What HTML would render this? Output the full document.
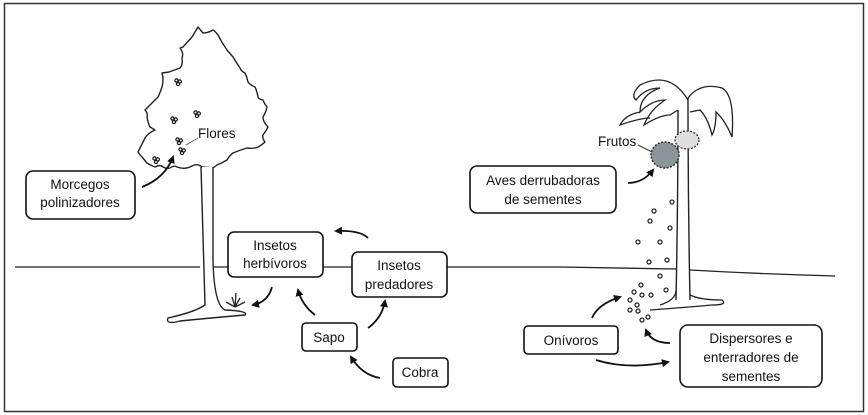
<!DOCTYPE html>
<html><head><meta charset="utf-8"><style>
html,body{margin:0;padding:0;background:#fff}
svg{display:block}
text{font-family:"Liberation Sans",sans-serif;font-size:13.5px;fill:#111}
</style></head><body>
<svg width="868" height="415" viewBox="0 0 868 415" xmlns="http://www.w3.org/2000/svg">
<defs>
<marker id="ah" markerWidth="8" markerHeight="8" refX="6" refY="4" orient="auto" markerUnits="userSpaceOnUse">
<path d="M0,0 L8,4 L0,8 z" fill="#111"/></marker>
<g id="fl" fill="none" stroke="#111" stroke-width="1.2"><circle cx="-1.5" cy="-1.5" r="1.6"/><circle cx="1.8" cy="-0.5" r="1.6"/><circle cx="0" cy="2" r="1.6"/></g>
</defs>
<rect x="4.5" y="3.5" width="859" height="408" fill="#fff" stroke="#333" stroke-width="1.5"/>
<!-- ground -->
<path d="M15,267 L200,267 M213,267 L228,267 M323,267 L352,267 M447,267 L560,267 Q620,268 676,269 M690,270 Q760,274 835,276" stroke="#222" stroke-width="1.3" fill="none"/>
<!-- tree crown -->
<path d="M198,27 L192,37 L183,47 L180,48 Q184,53 182,58 Q183,65 180,68 L169,72 L162,73 Q164,80 162,87 Q160,93 158,97 L150,105 L145,110 Q148,113 147,117 Q148,123 150,127 L155,130 Q148,133 145,138 L140,148 L138,152 Q140,155 142,157 L147,163 Q152,166 155,167 Q160,164 163,167 Q167,169 170,168 Q174,165 177,167 Q185,170 192,166 Q197,163 202,167 L213,168 L217,165 Q222,163 227,160 Q230,155 233,153 Q240,150 247,148 Q253,149 258,147 Q262,145 265,142 Q262,138 263,135 Q266,131 268,127 Q263,122 263,117 Q266,112 267,107 Q264,103 263,100 Q258,99 258,97 Q257,91 255,87 Q250,85 248,82 Q247,77 245,73 Q241,71 240,68 Q236,62 233,57 L227,50 Q222,43 218,35 Q215,31 213,30 Q208,33 203,33 Z" fill="#fff" stroke="#222" stroke-width="1.4" stroke-linejoin="round"/>
<!-- trunk -->
<path d="M201,167 Q203,230 205,305 Q195,312 168,318 Q165,325 180,321 Q210,318 245,315 Q249,311 225,310 Q214,305 213,260 L213,167" fill="#fff" stroke="#222" stroke-width="1.4"/>
<!-- flowers -->
<use href="#fl" x="178" y="82"/><use href="#fl" x="174" y="120"/><use href="#fl" x="197" y="114"/>
<use href="#fl" x="179" y="141"/><use href="#fl" x="182" y="151"/><use href="#fl" x="156" y="160"/>
<line x1="186" y1="145" x2="198" y2="138" stroke="#555"/>
<text x="198" y="138">Flores</text>
<!-- small plant -->
<path d="M235,307 L232,297 M235,307 L236,293 M235,307 L240,298 M235,307 L226,302 M235,307 L245,302" stroke="#222" stroke-width="1.3" fill="none"/>
<!-- palm -->
<path d="M676,300 Q678,200 678,110 M690,300 Q688,200 688,98" stroke="#222" stroke-width="1.4" fill="none"/>
<path d="M660,305 Q676,300 676,290 M690,295 Q700,300 722,300 Q728,305 712,305 Q690,307 650,310" stroke="#222" stroke-width="1.3" fill="none"/>
<path d="M688,100 Q670,70 640,85 Q630,95 636,100 Q645,88 660,88 Q640,95 640,112 Q652,100 665,100 Q650,110 644,125 Q660,115 670,115 L678,110 M688,98 Q700,82 722,88 Q735,95 732,137 Q725,120 716,112 Q716,128 712,135 Q708,118 700,110 L690,112 M640,112 Q625,115 620,125 Q640,118 650,118" stroke="#222" stroke-width="1.3" fill="none"/>
<!-- fruits -->
<ellipse cx="665" cy="155" rx="14" ry="13" fill="#8a9499" stroke="#222" stroke-width="1.4" stroke-dasharray="2 1.5"/>
<ellipse cx="687" cy="140" rx="12" ry="9" fill="#ddd" stroke="#222" stroke-width="1.2" stroke-dasharray="2 1.5"/>
<line x1="638" y1="145" x2="652" y2="152" stroke="#333"/>
<text x="598" y="146">Frutos</text>
<!-- seeds -->
<g fill="none" stroke="#222" stroke-width="1.3">
<circle cx="672" cy="202" r="2"/><circle cx="654" cy="211" r="2"/><circle cx="650" cy="221" r="2"/><circle cx="670" cy="228" r="2"/>
<circle cx="638" cy="242" r="2"/><circle cx="660" cy="242" r="2"/><circle cx="649" cy="262" r="2"/><circle cx="667" cy="260" r="2"/>
<circle cx="660" cy="276" r="2"/><circle cx="641" cy="285" r="2"/><circle cx="666" cy="290" r="2"/><circle cx="634" cy="292" r="2"/>
<circle cx="642" cy="295" r="2"/><circle cx="651" cy="295" r="2"/><circle cx="630" cy="300" r="2"/><circle cx="637" cy="305" r="2"/>
<circle cx="630" cy="310" r="2"/><circle cx="638" cy="311" r="2"/><circle cx="642" cy="320" r="2"/><circle cx="648" cy="317" r="2"/>
</g>
<!-- boxes -->
<g fill="#fff" stroke="#111" stroke-width="1.6">
<rect x="26" y="171" width="109" height="48" rx="7"/>
<rect x="228" y="232" width="95" height="45" rx="6"/>
<rect x="352" y="252" width="95" height="45" rx="6"/>
<rect x="302" y="323" width="55" height="28" rx="4"/>
<rect x="393" y="358" width="55" height="29" rx="4"/>
<rect x="470" y="166" width="146" height="47" rx="7"/>
<rect x="524" y="326" width="94" height="28" rx="4"/>
<rect x="680" y="325" width="142" height="62" rx="8"/>
</g>
<g text-anchor="middle">
<text x="80" y="189">Morcegos</text><text x="80" y="207">polinizadores</text>
<text x="275" y="250">Insetos</text><text x="275" y="268">herbívoros</text>
<text x="399" y="270">Insetos</text><text x="399" y="289">predadores</text>
<text x="329" y="342">Sapo</text>
<text x="420" y="377">Cobra</text>
<text x="543" y="185">Aves derrubadoras</text><text x="543" y="204">de sementes</text>
<text x="571" y="345">Onívoros</text>
<text x="751" y="343">Dispersores e</text><text x="751" y="362">enterradores de</text><text x="751" y="381">sementes</text>
</g>
<!-- arrows -->
<g fill="none" stroke="#111" stroke-width="1.8" marker-end="url(#ah)">
<path d="M142,187 Q165,178 173,157"/>
<path d="M272,287 Q268,302 253,305"/>
<path d="M315,315 Q302,305 298,290"/>
<path d="M368,238 Q360,230 336,231"/>
<path d="M368,328 Q382,318 385,301"/>
<path d="M380,378 Q362,375 351,357"/>
<path d="M628,183 Q643,183 653,170"/>
<path d="M592,318 Q598,304 620,297"/>
<path d="M596,360 Q628,370 668,362"/>
<path d="M670,343 Q651,343 646,330"/>
</g>
</svg>
</body></html>
